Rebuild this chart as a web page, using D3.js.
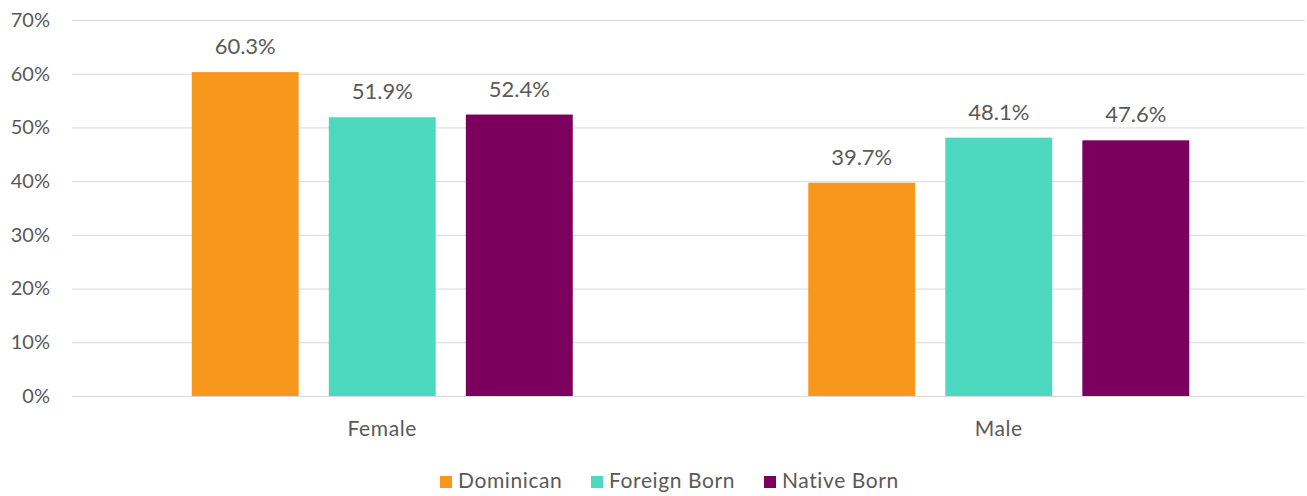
<!DOCTYPE html>
<html>
<head>
<meta charset="utf-8">
<script src="https://cdn.jsdelivr.net/npm/d3@7"></script>
<style>
  body { margin: 0; background: #fff; }
  text { font-family: Lato, "Open Sans", sans-serif; fill: #595959; }
</style>
</head>
<body>
<script>
const categories = ["Female", "Male"];
const seriesNames = ["Dominican", "Foreign Born", "Native Born"];
const colors = ["#F7981D", "#4DD8C0", "#7B005E"];
const dominican = [60.3, 39.7];
const foreignBorn = [51.9, 48.1];
const nativeBorn = [52.4, 47.6];
const yTicks = [0, 10, 20, 30, 40, 50, 60, 70];

const width = 1307, height = 496;
const margin = {top: 20, right: 0, bottom: 100, left: 72};

const svg = d3.select("body").append("svg")
  .attr("width", width)
  .attr("height", height);

const x = d3.scaleBand()
  .domain(categories)
  .range([margin.left + 2, width - margin.right]);

const xs = d3.scaleBand()
  .domain(seriesNames)
  .range([0, 381])
  .paddingInner(0.22);

const y = d3.scaleLinear()
  .domain([0, 70])
  .range([height - margin.bottom, margin.top]);

// gridlines
svg.append("g")
  .selectAll("line")
  .data(yTicks)
  .join("line")
  .attr("x1", margin.left)
  .attr("x2", width - 2)
  .attr("y1", d => y(d) + 0.5)
  .attr("y2", d => y(d) + 0.5)
  .attr("stroke", "#d9d9d9")
  .attr("stroke-width", 1);

const yAxis = d3.axisLeft(y).tickValues(yTicks).tickFormat(d => d + "%").tickSize(0).tickPadding(22);
svg.append("g")
  .attr("transform", "translate(" + margin.left + ",0)")
  .call(yAxis)
  .call(g => g.select(".domain").remove())
  .selectAll("text")
  .style("font-size", "20px")
  .attr("fill", "#595959");

const values = [dominican, foreignBorn, nativeBorn];
const rows = [];
values.forEach((vals, si) => {
  vals.forEach((v, ci) => rows.push({series: seriesNames[si], si: si, cat: categories[ci], value: v}));
});

const groupOffset = (x.bandwidth() - 381) / 2;

svg.append("g")
  .selectAll("rect")
  .data(rows)
  .join("rect")
  .attr("x", d => x(d.cat) + groupOffset + xs(d.series))
  .attr("y", d => y(d.value))
  .attr("width", xs.bandwidth())
  .attr("height", d => y(0) - y(d.value))
  .attr("fill", d => colors[d.si]);

svg.append("g")
  .selectAll("text")
  .data(rows)
  .join("text")
  .attr("x", d => x(d.cat) + groupOffset + xs(d.series) + xs.bandwidth() / 2)
  .attr("y", d => y(d.value) - 18)
  .attr("text-anchor", "middle")
  .style("font-size", "22px")
  .text(d => d.value.toFixed(1) + "%");

// category labels
svg.append("g")
  .selectAll("text")
  .data(categories)
  .join("text")
  .attr("x", d => x(d) + x.bandwidth() / 2)
  .attr("y", y(0) + 40)
  .attr("text-anchor", "middle")
  .style("font-size", "21px")
  .style("letter-spacing", "0.6px")
  .text(d => d);

// legend
const legendX = [440, 591, 764];
const legend = svg.append("g");
seriesNames.forEach((name, i) => {
  legend.append("rect")
    .attr("x", legendX[i])
    .attr("y", 476)
    .attr("width", 12)
    .attr("height", 12)
    .attr("fill", colors[i]);
  legend.append("text")
    .attr("x", legendX[i] + 18)
    .attr("y", 488)
    .style("font-size", "21px")
    .style("letter-spacing", "0.6px")
    .text(name);
});
</script>
</body>
</html>
